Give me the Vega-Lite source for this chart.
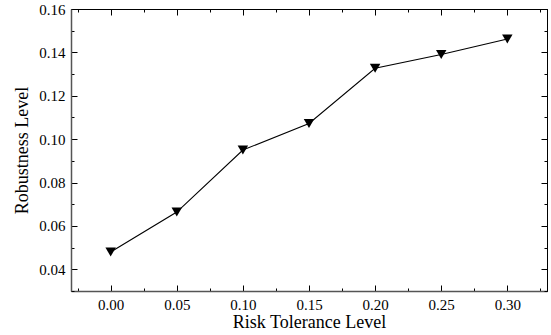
{
  "$schema": "https://vega.github.io/schema/vega-lite/v6.json",
  "width": 476,
  "height": 282,
  "autosize": {"type": "none"},
  "padding": {"left": 71, "top": 9, "right": 4, "bottom": 44},
  "background": "white",
  "config": {
    "view": {"stroke": "black", "strokeWidth": 1},
    "font": "Liberation Serif",
    "axis": {
      "labelFont": "Liberation Serif",
      "titleFont": "Liberation Serif",
      "labelFontSize": 15,
      "titleFontSize": 18,
      "titleFontWeight": "normal",
      "labelColor": "black",
      "titleColor": "black",
      "grid": false,
      "domainColor": "black",
      "tickColor": "black",
      "labelPadding": 12
    }
  },
  "data": {
    "values": [
      {"risk": 0.00, "robust": 0.0480},
      {"risk": 0.05, "robust": 0.0664},
      {"risk": 0.10, "robust": 0.0950},
      {"risk": 0.15, "robust": 0.1072},
      {"risk": 0.20, "robust": 0.1327},
      {"risk": 0.25, "robust": 0.1390},
      {"risk": 0.30, "robust": 0.1462}
    ]
  },
  "layer": [
    {
      "mark": {"type": "line", "color": "black", "strokeWidth": 1.1},
      "encoding": {
        "x": {
          "field": "risk", "type": "quantitative",
          "scale": {"domain": [-0.03, 0.33], "nice": false, "zero": false},
          "axis": {
            "orient": "bottom",
            "title": "Risk Tolerance Level",
            "labelFont": "Liberation Serif",
            "titleFont": "Liberation Serif",
            "values": [-0.025, 0, 0.025, 0.05, 0.075, 0.1, 0.125, 0.15, 0.175, 0.2, 0.225, 0.25, 0.275, 0.3, 0.325],
            "labelExpr": "abs(datum.value*20 - round(datum.value*20)) < 0.001 ? format(datum.value, '.2f') : ''",
            "tickSize": {"condition": {"test": "abs(datum.value*20 - round(datum.value*20)) < 0.001", "value": -6}, "value": -3},
            "domainColor": "#555555",
            "domainWidth": 1.5,
            "titlePadding": 1
          }
        },
        "y": {
          "field": "robust", "type": "quantitative",
          "scale": {"domain": [0.03, 0.16], "nice": false, "zero": false},
          "axis": {
            "orient": "left",
            "title": "Robustness Level",
            "labelFont": "Liberation Serif",
            "titleFont": "Liberation Serif",
            "values": [0.03, 0.04, 0.05, 0.06, 0.07, 0.08, 0.09, 0.1, 0.11, 0.12, 0.13, 0.14, 0.15, 0.16],
            "labelExpr": "abs(datum.value*50 - round(datum.value*50)) < 0.001 ? format(datum.value, '.2f') : ''",
            "tickSize": {"condition": {"test": "abs(datum.value*50 - round(datum.value*50)) < 0.001", "value": -6}, "value": -3},
            "domainColor": "#555555",
            "domainWidth": 1.5,
            "titlePadding": 7
          }
        }
      }
    },
    {
      "mark": {"type": "point", "shape": "triangle-down", "filled": true, "color": "black", "size": 110, "opacity": 1},
      "encoding": {
        "x": {
          "field": "risk", "type": "quantitative",
          "axis": {
            "orient": "top",
            "title": null,
            "labels": false,
            "values": [-0.025, 0, 0.025, 0.05, 0.075, 0.1, 0.125, 0.15, 0.175, 0.2, 0.225, 0.25, 0.275, 0.3, 0.325],
            "tickSize": {"condition": {"test": "abs(datum.value*20 - round(datum.value*20)) < 0.001", "value": -6}, "value": -3}
          }
        },
        "y": {
          "field": "robust", "type": "quantitative",
          "axis": {
            "orient": "right",
            "title": null,
            "labels": false,
            "values": [0.03, 0.04, 0.05, 0.06, 0.07, 0.08, 0.09, 0.1, 0.11, 0.12, 0.13, 0.14, 0.15, 0.16],
            "tickSize": {"condition": {"test": "abs(datum.value*50 - round(datum.value*50)) < 0.001", "value": -6}, "value": -3}
          }
        }
      }
    }
  ],
  "resolve": {"axis": {"x": "independent", "y": "independent"}}
}
